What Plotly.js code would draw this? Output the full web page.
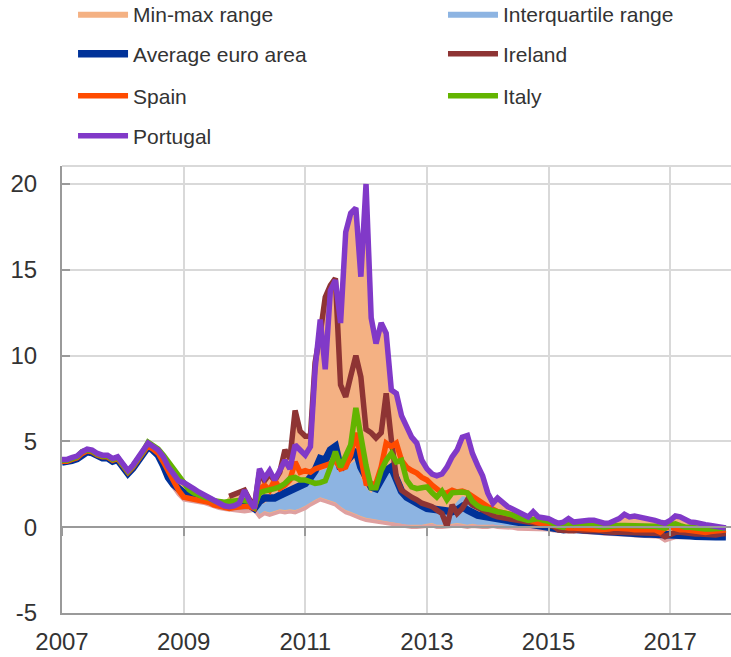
<!DOCTYPE html>
<html><head><meta charset="utf-8">
<script src="https://cdn.plot.ly/plotly-3.0.1.min.js"></script>
<style>html,body{margin:0;padding:0;background:#fff}#chart{width:731px;height:657px}</style>
</head><body><div id="chart"></div>
<script>
// monthly observations, Jan 2007 .. Dec 2017
const startYear = 2007, nMonths = 132;
const months = [];
for (let i = 0; i < nMonths; i++) {
  const y = startYear + Math.floor(i / 12), m = i % 12 + 1;
  months.push(y + '-' + String(m).padStart(2, '0') + '-01');
}

const rangeMax = [
  3.95,3.95,4.05,4.15,4.4,4.55,4.5,4.3,4.2,4.2,4.0,4.1,
  3.7,3.3,3.6,4.0,4.4,4.95,4.75,4.55,4.2,3.8,3.4,3.0,
  2.6,2.45,2.25,2.05,1.9,1.75,1.6,1.5,1.45,1.8,1.9,2.0,
  2.15,1.6,1.2,3.4,2.85,3.3,2.75,3.3,4.5,4.0,6.8,5.6,
  5.3,5.3,9.6,12.1,13.4,14.1,14.5,11.9,17.2,18.3,18.6,14.6,
  20.0,12.2,10.7,11.9,11.3,8.0,7.8,6.5,5.85,5.25,4.9,3.9,
  3.4,3.1,3.0,3.1,3.5,4.1,4.5,5.25,5.35,4.3,3.6,3.0,
  2.0,1.4,1.7,1.4,1.2,1.05,0.9,0.75,0.6,0.9,0.6,0.55,
  0.5,0.35,0.23,0.3,0.5,0.3,0.35,0.4,0.4,0.4,0.3,0.23,
  0.25,0.4,0.5,0.75,0.6,0.65,0.6,0.55,0.5,0.4,0.3,0.23,
  0.4,0.65,0.6,0.45,0.3,0.28,0.25,0.15,0.1,0.05,0.0,-0.05];
const rangeMin = [
  3.75,3.75,3.85,3.95,4.2,4.35,4.3,4.1,4.0,4.0,3.8,3.9,
  3.5,3.1,3.4,3.8,4.2,4.6,4.4,4.1,3.5,2.8,2.3,1.9,
  1.6,1.55,1.5,1.45,1.4,1.3,1.2,1.1,1.05,1.0,0.95,0.9,
  0.9,0.95,1.0,0.6,0.8,0.7,0.8,0.9,0.85,0.9,0.85,0.95,
  1.1,1.3,1.45,1.6,1.5,1.4,1.3,1.05,0.85,0.75,0.6,0.5,
  0.4,0.35,0.3,0.25,0.2,0.15,0.1,0.05,0.0,0.0,0.0,0.0,
  0.05,0.1,0.0,0.0,0.0,0.05,0.1,0.05,0.0,0.05,0.0,0.0,
  0.0,0.05,0.0,0.0,-0.05,-0.05,-0.1,-0.1,-0.1,-0.1,-0.15,-0.15,
  -0.15,-0.2,-0.2,-0.2,-0.2,-0.25,-0.25,-0.3,-0.3,-0.35,-0.35,-0.4,
  -0.4,-0.4,-0.45,-0.45,-0.45,-0.5,-0.5,-0.5,-0.55,-0.55,-0.6,-0.8,
  -0.7,-0.6,-0.6,-0.6,-0.6,-0.6,-0.6,-0.6,-0.6,-0.6,-0.6,-0.6];
const quart1 = [
  3.78,3.78,3.88,3.98,4.22,4.37,4.32,4.12,4.02,4.02,3.82,3.92,
  3.52,3.12,3.42,3.82,4.22,4.62,4.42,4.12,3.52,2.85,2.4,2.0,
  1.7,1.65,1.6,1.55,1.5,1.4,1.3,1.2,1.15,1.1,1.05,1.0,
  1.0,1.05,1.1,0.75,0.95,0.85,0.95,1.05,1.0,1.05,1.0,1.1,
  1.25,1.45,1.6,1.75,1.65,1.55,1.45,1.2,1.0,0.9,0.75,0.65,
  0.55,0.5,0.45,0.4,0.35,0.3,0.25,0.2,0.15,0.15,0.15,0.15,
  0.2,0.25,0.15,0.15,0.15,0.2,0.25,0.2,0.15,0.2,0.15,0.15,
  0.15,0.15,0.1,0.1,0.05,0.05,0.0,0.0,0.0,-0.05,-0.05,-0.05,
  -0.05,-0.1,-0.1,-0.1,-0.1,-0.15,-0.15,-0.2,-0.2,-0.25,-0.25,-0.3,
  -0.3,-0.3,-0.35,-0.35,-0.35,-0.4,-0.4,-0.4,-0.45,-0.45,-0.5,-0.65,
  -0.55,-0.5,-0.5,-0.5,-0.5,-0.5,-0.5,-0.5,-0.5,-0.5,-0.5,-0.5];
const quart3 = [
  3.85,3.85,3.95,4.05,4.3,4.45,4.4,4.2,4.1,4.1,3.9,4.0,
  3.6,3.2,3.5,3.9,4.3,4.7,4.5,4.2,3.6,2.9,2.5,2.2,
  1.9,1.8,1.7,1.6,1.55,1.45,1.4,1.35,1.3,1.25,1.25,1.3,
  1.25,1.2,1.05,1.3,1.4,1.55,1.6,1.75,1.9,2.1,2.25,2.5,
  2.75,2.9,3.1,3.3,3.4,3.6,3.8,3.6,3.5,3.7,3.9,2.9,
  2.3,2.0,2.3,2.75,3.1,3.3,2.9,2.2,1.75,1.5,1.3,1.2,
  1.1,1.0,1.0,1.0,1.05,1.1,1.5,1.8,1.75,1.2,0.8,0.7,
  0.65,0.6,0.55,0.5,0.45,0.4,0.35,0.3,0.25,0.2,0.15,0.1,
  0.05,0.0,-0.05,-0.05,0.0,-0.05,-0.05,-0.1,-0.1,-0.15,-0.15,-0.15,
  -0.15,-0.15,-0.15,-0.15,-0.2,-0.2,-0.2,-0.2,-0.2,-0.25,-0.3,-0.3,
  -0.3,-0.3,-0.3,-0.3,-0.35,-0.35,-0.4,-0.4,-0.4,-0.4,-0.4,-0.4];
const euroArea = [
  3.8,3.8,3.9,4.0,4.25,4.4,4.35,4.15,4.05,4.05,3.85,3.95,
  3.55,3.15,3.45,3.85,4.25,4.7,4.5,4.2,3.6,2.9,2.5,2.2,
  2.0,1.9,1.8,1.7,1.6,1.5,1.45,1.4,1.35,1.3,1.3,1.35,
  1.3,1.3,1.1,1.5,1.7,1.7,1.7,1.85,2.0,2.15,2.3,2.45,
  2.55,2.9,3.3,4.0,3.9,4.5,4.7,3.4,3.8,4.1,4.5,3.5,
  2.8,2.35,2.25,2.8,3.3,3.5,2.8,2.1,1.75,1.55,1.4,1.25,
  1.1,1.05,1.0,1.0,0.95,0.9,1.0,1.2,1.0,0.8,0.7,0.65,
  0.6,0.55,0.5,0.45,0.4,0.3,0.25,0.23,0.2,0.15,0.1,0.05,
  -0.05,-0.1,-0.15,-0.15,-0.1,-0.12,-0.15,-0.2,-0.25,-0.3,-0.3,-0.3,
  -0.3,-0.3,-0.32,-0.35,-0.37,-0.37,-0.38,-0.4,-0.4,-0.4,-0.42,-0.45,
  -0.45,-0.45,-0.48,-0.5,-0.5,-0.52,-0.55,-0.55,-0.55,-0.55,-0.55,-0.55];
const ireland = [
  null,null,null,null,null,null,null,null,null,null,null,null,
  null,null,null,null,null,null,null,null,null,null,null,null,
  null,null,null,null,null,null,null,null,null,1.8,1.9,2.0,
  2.15,1.6,1.2,3.2,2.7,3.1,2.7,3.2,4.5,4.0,6.8,5.6,
  5.3,5.3,9.6,11.3,13.4,14.1,14.5,8.3,7.6,8.8,10.0,8.75,
  5.7,5.5,5.2,5.5,7.8,5.1,2.9,2.15,1.9,1.75,1.6,1.4,
  1.3,1.2,1.0,0.8,0.05,1.3,0.8,1.1,1.6,1.3,1.15,1.0,
  0.8,0.7,0.6,0.57,0.5,0.45,0.4,0.35,0.3,0.25,0.2,0.15,
  0.1,0.05,-0.15,-0.2,-0.2,-0.2,-0.15,-0.2,-0.2,-0.15,-0.2,-0.25,
  -0.3,-0.3,-0.3,-0.3,-0.3,-0.3,-0.3,-0.3,-0.35,-0.35,-0.37,-0.55,
  -0.4,-0.3,-0.3,-0.35,-0.4,-0.4,-0.4,-0.42,-0.45,-0.45,-0.4,-0.37];
const spain = [
  3.85,3.85,3.95,4.05,4.3,4.45,4.4,4.2,4.1,4.1,3.9,4.0,
  3.6,3.2,3.5,3.9,4.3,4.75,4.55,4.3,3.8,3.2,2.6,2.15,
  1.75,1.7,1.65,1.55,1.5,1.45,1.3,1.25,1.2,1.1,1.15,1.2,
  1.2,1.2,1.1,2.2,2.45,2.15,2.75,2.25,2.45,2.75,3.8,3.2,
  3.3,3.2,3.4,3.5,3.6,3.7,3.9,3.4,3.5,4.2,5.5,3.9,
  2.55,2.5,2.55,3.5,4.9,4.7,4.9,3.9,3.5,3.3,3.15,2.9,
  2.75,2.45,2.2,2.0,2.0,2.15,2.05,2.1,2.0,1.8,1.55,1.35,
  1.2,1.05,0.9,0.85,0.8,0.7,0.6,0.5,0.4,0.3,0.25,0.2,
  0.15,0.05,0.0,-0.05,-0.05,-0.05,-0.05,-0.08,-0.1,-0.12,-0.15,-0.15,
  -0.1,-0.05,-0.05,-0.05,-0.1,-0.15,-0.15,-0.15,-0.15,-0.15,-0.3,-0.05,
  0.0,-0.1,-0.15,-0.15,-0.2,-0.25,-0.3,-0.3,-0.25,-0.25,-0.2,-0.15];
const italy = [
  3.9,3.9,4.0,4.1,4.4,4.5,4.45,4.25,4.15,4.15,3.95,4.05,
  3.65,3.25,3.55,3.95,4.4,4.95,4.75,4.55,4.2,3.8,3.4,3.0,
  2.5,2.2,2.0,1.85,1.75,1.7,1.55,1.5,1.45,1.5,1.55,1.55,
  1.55,1.5,1.2,2.0,2.1,2.15,2.25,2.35,2.55,2.85,2.9,2.75,
  2.75,2.65,2.55,2.6,2.7,3.5,4.4,3.5,4.1,4.8,6.95,5.2,
  3.6,2.3,2.3,3.3,3.9,4.3,3.8,3.9,2.75,2.35,2.25,2.3,
  2.35,2.0,1.75,2.1,1.6,2.0,2.05,2.05,2.0,1.5,1.25,1.1,
  1.05,0.95,0.9,0.85,0.8,0.7,0.55,0.45,0.4,0.45,0.5,0.4,
  0.35,0.2,0.05,0.0,0.3,0.1,0.2,0.2,0.15,0.05,0.0,0.0,
  0.05,0.1,0.1,0.1,0.1,0.1,0.1,0.1,0.1,0.05,0.0,-0.05,
  0.15,0.2,0.1,0.0,0.0,-0.05,-0.1,-0.1,-0.1,-0.1,-0.1,-0.05];
const portugal = [
  3.95,3.95,4.05,4.15,4.4,4.55,4.5,4.3,4.2,4.2,4.0,4.1,
  3.7,3.3,3.6,4.0,4.4,4.9,4.7,4.5,4.1,3.5,3.1,2.7,
  2.6,2.45,2.25,2.05,1.9,1.7,1.6,1.4,1.25,1.2,1.25,1.4,
  2.15,1.5,1.1,3.4,2.85,3.3,2.75,3.3,3.9,3.4,4.8,4.5,
  4.2,4.7,9.2,12.1,9.2,13.8,14.4,11.9,17.2,18.3,18.6,14.6,
  20.0,12.2,10.7,11.9,11.3,8.0,7.8,6.5,5.85,5.25,4.9,3.9,
  3.4,3.1,3.0,3.1,3.5,4.1,4.5,5.25,5.35,4.3,3.6,3.0,
  2.0,1.4,1.7,1.4,1.2,1.05,0.9,0.75,0.6,0.9,0.6,0.55,
  0.5,0.35,0.23,0.3,0.5,0.3,0.35,0.4,0.4,0.4,0.3,0.23,
  0.25,0.4,0.5,0.75,0.6,0.65,0.6,0.55,0.5,0.4,0.3,0.23,
  0.4,0.65,0.6,0.45,0.3,0.28,0.25,0.15,0.1,0.05,0.0,-0.05];

const xTickYears = ['2007','2009','2011','2013','2015','2017'];
const yTicks = [-5, 0, 5, 10, 15, 20];
const yTickText = ['-5', '0', '5', '10', '15', '20'];

const FONT = 'Liberation Sans, Arial, sans-serif';
const textColor = '#333333';

const traces = [
  {x: months, y: rangeMin, mode: 'lines', line: {width: 0, color: '#F4B183'}, showlegend: false, hoverinfo: 'skip'},
  {x: months, y: rangeMax, mode: 'lines', fill: 'tonexty', fillcolor: '#F4B183', line: {width: 0, color: '#F4B183'}, name: 'Min-max range', legend: 'legend'},
  {x: months, y: quart1, mode: 'lines', line: {width: 0, color: '#8DB4E2'}, showlegend: false, hoverinfo: 'skip'},
  {x: months, y: quart3, mode: 'lines', fill: 'tonexty', fillcolor: '#8DB4E2', line: {width: 0, color: '#8DB4E2'}, name: 'Interquartile range', legend: 'legend2'},
  {x: months, y: rangeMin, mode: 'lines', line: {width: 3.5, color: '#DFA0A0'}, showlegend: false},
  {x: months, y: euroArea, mode: 'lines', line: {width: 7.5, color: '#003299'}, name: 'Average euro area', legend: 'legend3'},
  {x: months, y: ireland, mode: 'lines', line: {width: 5.5, color: '#8E3434'}, name: 'Ireland', legend: 'legend4'},
  {x: months, y: spain, mode: 'lines', line: {width: 5.5, color: '#FF4B00'}, name: 'Spain', legend: 'legend5'},
  {x: months, y: italy, mode: 'lines', line: {width: 5.5, color: '#63B400'}, name: 'Italy', legend: 'legend6'},
  {x: months, y: portugal, mode: 'lines', line: {width: 5.5, color: '#8139C8'}, name: 'Portugal', legend: 'legend7', xaxis: 'x2'}
];

const yMin = -5, yMax = 21.05;
const col1 = 0.0165, col2 = 0.5695;
const row = [1.340, 1.2506, 1.1566, 1.0671];
function mkLegend(x, y) {
  return {
    orientation: 'h', xanchor: 'left', yanchor: 'middle', x: x, y: y,
    font: {family: FONT, size: 21, color: textColor},
    bgcolor: 'rgba(0,0,0,0)', itemwidth: 50
  };
}
const xRange = ['2007-01-01', '2018-01-01'];
const xTickVals = xTickYears.map(y => y + '-01-01');

const layout = {
  width: 731, height: 657,
  margin: {l: 62, r: 0, t: 166, b: 44, pad: 0, autoexpand: false},
  paper_bgcolor: '#ffffff', plot_bgcolor: '#ffffff',
  font: {family: FONT, color: textColor},
  showlegend: true,
  legend: mkLegend(col1, row[0]),
  legend2: mkLegend(col2, row[0]),
  legend3: mkLegend(col1, row[1]),
  legend4: mkLegend(col2, row[1]),
  legend5: mkLegend(col1, row[2]),
  legend6: mkLegend(col2, row[2]),
  legend7: mkLegend(col1, row[3]),
  xaxis: {
    type: 'date', range: xRange, tickvals: xTickVals, ticktext: xTickYears,
    showgrid: true, gridcolor: '#D9D9D9', gridwidth: 2,
    showline: true, linecolor: '#9A9A9A', linewidth: 2,
    ticks: '', ticklabelstandoff: 6,
    tickfont: {family: FONT, size: 24, color: textColor},
    zeroline: false
  },
  xaxis2: {
    type: 'date', range: xRange, overlaying: 'x', anchor: 'free',
    position: (0 - yMin) / (yMax - yMin),
    tickvals: xTickVals, showticklabels: false, showgrid: false,
    showline: true, linecolor: '#9A9A9A', linewidth: 2,
    ticks: 'outside', ticklen: 8, tickwidth: 2, tickcolor: '#9A9A9A', zeroline: false
  },
  yaxis: {
    range: [yMin, yMax], tickvals: yTicks, ticktext: yTickText,
    showgrid: true, gridcolor: '#D9D9D9', gridwidth: 2,
    showline: true, linecolor: '#9A9A9A', linewidth: 2,
    ticks: 'inside', ticklen: 8, tickwidth: 2, tickcolor: '#9A9A9A',
    ticklabelstandoff: 18,
    tickfont: {family: FONT, size: 24, color: textColor},
    zeroline: false
  },
  shapes: [
    {type: 'line', xref: 'paper', yref: 'paper', x0: 0, x1: 1, y0: 1, y1: 1, line: {color: '#D9D9D9', width: 2}}
  ]
};

Plotly.newPlot('chart', traces, layout, {staticPlot: true, displayModeBar: false});
</script>
</body></html>
